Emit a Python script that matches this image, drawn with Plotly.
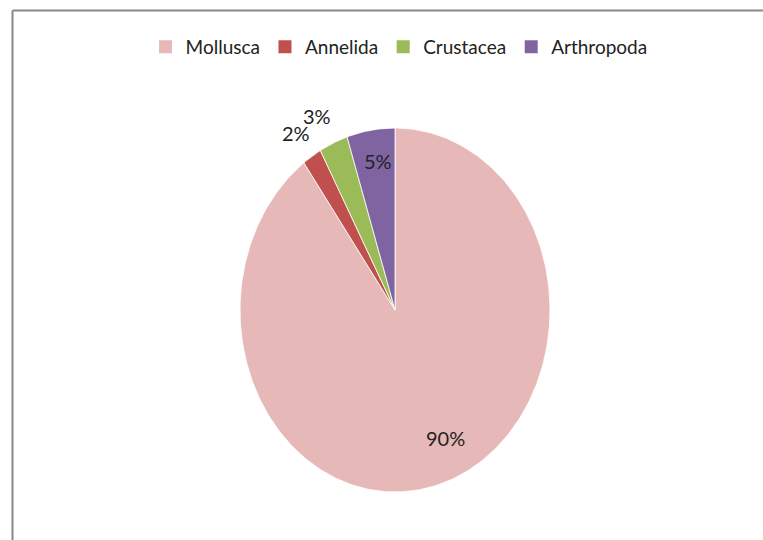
import numpy as np
import plotly.graph_objects as go

# Share of each taxonomic group (percent)
groups = ["Mollusca", "Annelida", "Crustacea", "Arthropoda"]
shares = [90, 2, 3, 5]
labels = ["90%", "2%", "3%", "5%"]

colors = ["#E6B9B8", "#C0504D", "#9BBB59", "#8064A2"]
label_radius = [0.74, 1.15, 1.16, 0.83]
label_xshift = [15, -3, -7, 3]
font_family = "Lato, Open Sans, Arial"

W, H = 763, 540
cx_px, cy_px = 395, 310      # pie centre in pixels
rx_px, ry_px = 155, 182      # horizontal / vertical radius in pixels

fig = go.Figure()

total = float(sum(shares))
start = 0.0
for name, val, col, txt, lr, dx in zip(groups, shares, colors, labels,
                                       label_radius, label_xshift):
    a0 = start / total * 2 * np.pi
    a1 = (start + val) / total * 2 * np.pi
    t = np.linspace(a0, a1, max(int(val * 4), 8))
    xs = np.concatenate([[0], np.sin(t), [0]])
    ys = np.concatenate([[0], np.cos(t), [0]])
    fig.add_trace(go.Scatter(
        x=xs, y=ys, mode="lines", fill="toself", fillcolor=col,
        line=dict(color="white", width=0.8), name=name,
        showlegend=False, hoverinfo="name",
    ))
    mid = (a0 + a1) / 2
    fig.add_annotation(
        x=lr * np.sin(mid), y=lr * np.cos(mid), text=txt, showarrow=False,
        xshift=dx, font=dict(family=font_family, size=20, color="#222222"),
    )
    start += val

# Legend entries with square swatches
for name, col in zip(groups, colors):
    fig.add_trace(go.Scatter(
        x=[None], y=[None], mode="markers", name=name,
        marker=dict(symbol="square", size=13, color=col),
    ))

# Axis ranges chosen so one data unit equals the radii in pixels
x_range = [-cx_px / rx_px, (W - cx_px) / rx_px]
y_range = [-(H - cy_px) / ry_px, cy_px / ry_px]

fig.update_layout(
    width=W, height=H,
    margin=dict(l=0, r=0, t=0, b=0),
    paper_bgcolor="white", plot_bgcolor="white",
    xaxis=dict(range=x_range, visible=False, fixedrange=True),
    yaxis=dict(range=y_range, visible=False, fixedrange=True),
    legend=dict(
        orientation="h", x=0.523, xanchor="center", y=1 - 47 / H, yanchor="middle",
        font=dict(family=font_family, size=19, color="#222222"),
        itemwidth=30, tracegroupgap=0, bgcolor="rgba(0,0,0,0)",
    ),
    shapes=[
        dict(type="line", xref="paper", yref="paper",
             x0=12.5 / W, x1=12.5 / W, y0=0, y1=1 - 10.5 / H,
             line=dict(color="#888888", width=2)),
        dict(type="line", xref="paper", yref="paper",
             x0=12.5 / W, x1=1, y0=1 - 10.5 / H, y1=1 - 10.5 / H,
             line=dict(color="#888888", width=2)),
    ],
)

fig.write_html("out.html")
